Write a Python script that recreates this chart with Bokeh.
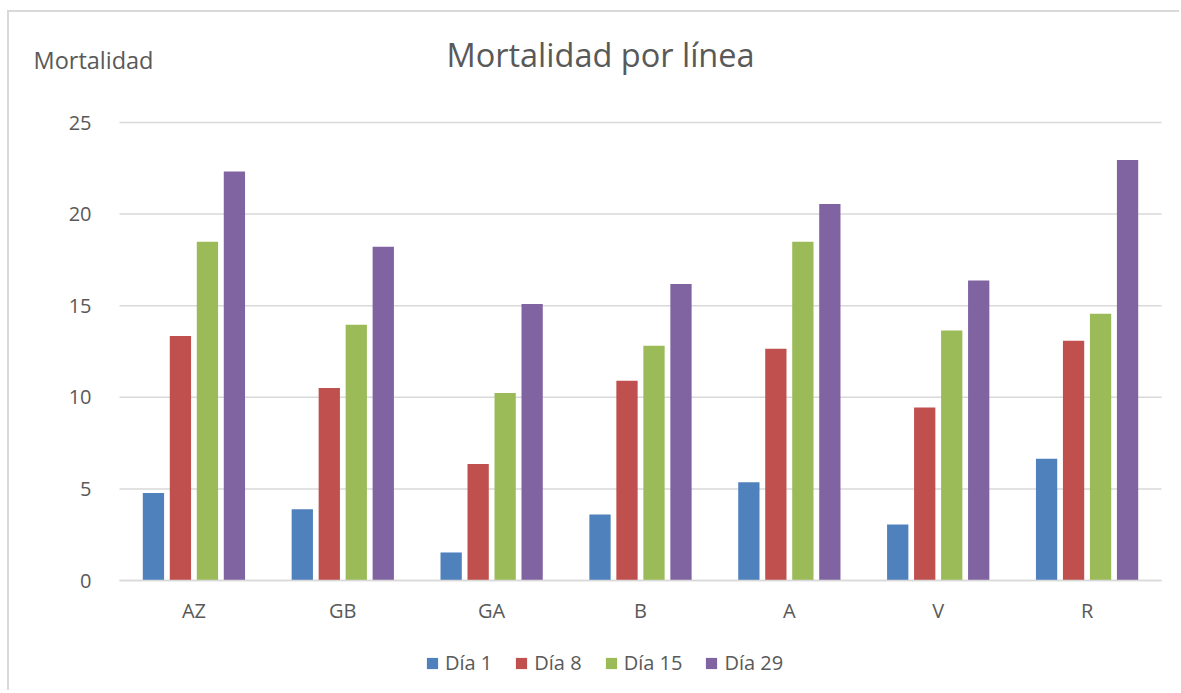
from bokeh.plotting import figure
from bokeh.models import (ColumnDataSource, Range1d, Label, Legend,
                          LegendItem, FixedTicker, LinearAxis)
from bokeh.transform import dodge
from bokeh.embed import file_html
from bokeh.resources import INLINE

# ---- data ----
categories = ["AZ", "GB", "GA", "B", "A", "V", "R"]
dia1 = [4.77, 3.89, 1.53, 3.60, 5.36, 3.05, 6.64]
dia8 = [13.35, 10.51, 6.36, 10.91, 12.65, 9.45, 13.09]
dia15 = [18.49, 13.96, 10.24, 12.82, 18.49, 13.65, 14.56]
dia29 = [22.33, 18.22, 15.09, 16.18, 20.55, 16.38, 22.95]
series_names = ["Día 1", "Día 8", "Día 15", "Día 29"]
y_ticks = [0, 5, 10, 15, 20, 25]
title_text = "Mortalidad por línea"
y_title_text = "Mortalidad"

# ---- styling / layout ----
colors = ["#4F81BD", "#C0504D", "#9BBB59", "#8064A2"]
offsets = [-0.272, -0.0907, 0.0907, 0.272]
bar_width = 0.143
FONT = "Open Sans"
TXT = "#595959"
GRID = "#d9d9d9"

W, H = 1172, 680                       # canvas size (frame = whole canvas)
ORIG_X, ORIG_Y = 9, 12                 # canvas origin on the page
PLOT_L, PLOT_R, PLOT_T, PLOT_B = 119, 1161, 122, 580   # plot area in page px
ncat = len(categories)
ymax = y_ticks[-1]
px_x = (PLOT_R - PLOT_L) / ncat
px_y = (PLOT_B - PLOT_T) / ymax
x_start = -(PLOT_L - ORIG_X) / px_x
x_end = ncat + (ORIG_X + W - PLOT_R) / px_x
y_end = ymax + (PLOT_T - ORIG_Y) / px_y
y_start = -(ORIG_Y + H - PLOT_B) / px_y

p = figure(x_range=Range1d(x_start, x_end), y_range=Range1d(y_start, y_end),
           width=W, height=H, output_backend="svg", toolbar_location=None,
           min_border=0, x_axis_location=None, y_axis_location=None)
p.styles = {"margin-left": "7px", "margin-top": "10px",
            "border-top": "2px solid #d9d9d9", "border-left": "2px solid #d9d9d9"}
p.outline_line_color = None
p.background_fill_color = "white"
p.border_fill_color = "white"
p.grid.visible = False

# horizontal gridlines across the category area
p.segment(x0=[0] * len(y_ticks), x1=[ncat] * len(y_ticks), y0=y_ticks, y1=y_ticks,
          line_color=GRID, line_width=1.5, level="underlay")

centers = [i + 0.5 for i in range(ncat)]
xaxis = LinearAxis(fixed_location=0, bounds=(0, ncat),
                   ticker=FixedTicker(ticks=centers),
                   major_label_overrides={c: cat for c, cat in zip(centers, categories)})
xaxis.axis_line_color = GRID
xaxis.axis_line_width = 1.5
xaxis.major_tick_line_color = None
xaxis.minor_tick_line_color = None
xaxis.major_label_standoff = 10
p.add_layout(xaxis, "below")

yaxis = LinearAxis(fixed_location=0, ticker=FixedTicker(ticks=y_ticks))
yaxis.axis_line_color = None
yaxis.major_tick_line_color = None
yaxis.minor_tick_line_color = None
yaxis.major_label_standoff = 22
p.add_layout(yaxis, "left")

for ax in (xaxis, yaxis):
    ax.major_label_text_font = FONT
    ax.major_label_text_font_size = "20px"
    ax.major_label_text_color = TXT

series = [dia1, dia8, dia15, dia29]
items = []
for name, vals, col, off in zip(series_names, series, colors, offsets):
    src = ColumnDataSource(dict(x=centers, top=vals, cat=categories))
    r = p.vbar(x=dodge("x", off), top="top", width=bar_width,
               source=src, fill_color=col, line_color=None)
    items.append(LegendItem(label=name, renderers=[r]))

legend = Legend(items=items, orientation="horizontal",
                location=(425 - ORIG_X, ORIG_Y + H - 676),
                padding=0, margin=0, spacing=22, glyph_width=14, glyph_height=14,
                label_standoff=6, label_text_font=FONT, label_text_font_size="20px",
                label_text_color=TXT, border_line_color=None,
                background_fill_alpha=0)
p.add_layout(legend)

p.add_layout(Label(x=600 - ORIG_X, y=ORIG_Y + H - 54, x_units="screen", y_units="screen",
                   text=title_text, text_align="center",
                   text_baseline="alphabetic", text_font=FONT,
                   text_font_size="32.5px", text_color=TXT))
p.add_layout(Label(x=33 - ORIG_X, y=ORIG_Y + H - 59, x_units="screen", y_units="screen",
                   text=y_title_text, text_align="left",
                   text_baseline="alphabetic", text_font=FONT,
                   text_font_size="23.5px", text_color=TXT))

open("out.html", "w").write(file_html(p, INLINE))
